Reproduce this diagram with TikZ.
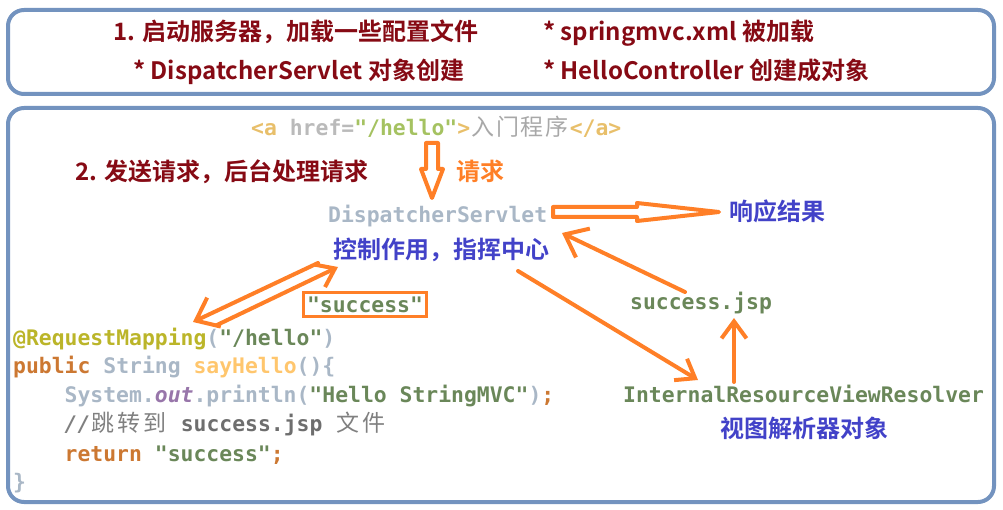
\documentclass[tikz,border=0pt]{standalone}
\usepackage{fontspec}
\usetikzlibrary{arrows.meta}
\newfontfamily\cjk{Noto Sans CJK SC}[BoldFont={Noto Sans CJK SC Bold}]
\newfontfamily\mono{DejaVu Sans Mono}
\definecolor{cRed}{HTML}{860A14}
\definecolor{cBlue}{HTML}{4242C8}
\definecolor{cOrg}{HTML}{FF7F27}
\definecolor{cFrame}{HTML}{7393BF}
\definecolor{cFg}{HTML}{A9B7C6}
\definecolor{cStr}{HTML}{6A8759}
\definecolor{cAnn}{HTML}{BBB529}
\definecolor{cKw}{HTML}{CC7832}
\definecolor{cMeth}{HTML}{FFC66D}
\definecolor{cPurp}{HTML}{9876AA}
\definecolor{cTag}{HTML}{E8BF6A}
\definecolor{cAttr}{HTML}{BABABA}
\definecolor{cHstr}{HTML}{A5C261}
\definecolor{cCmt}{HTML}{808080}
\definecolor{cCmtB}{HTML}{6E6E6E}
\definecolor{cLink}{HTML}{A8A8A8}
\newcommand\cwa[1]{\makebox[24.9pt]{\cjk\mdseries\upshape\fontsize{23}{26}\selectfont #1}}
\newcommand\cwb[1]{\makebox[25.8pt]{\cjk\mdseries\upshape\fontsize{23}{26}\selectfont #1}}
\tikzset{
  headtxt/.style={font=\cjk\bfseries\fontsize{24}{28}\selectfont, text=cRed, inner sep=0pt, anchor=base west},
  bluetxt/.style={headtxt, text=cBlue},
  codetxt/.style={font=\mono\bfseries\fontsize{21.4}{26}\selectfont, inner sep=0pt, anchor=base west},
  frame/.style={draw=cFrame, line width=4pt, rounded corners=16pt},
  orline/.style={draw=cOrg, line width=4pt, line cap=round, line join=round},
  orarrow/.style={orline, -{Straight Barb[length=20pt,width=32pt]}},
  orarrowsm/.style={orline, -{Straight Barb[length=17pt,width=25pt]}},
}
\begin{document}
\begin{tikzpicture}[x=1pt,y=-1pt]
\useasboundingbox (0,0) rectangle (1003,510);
% frames
\draw[frame] (8,10) rectangle (994,94);
\draw[frame] (8,108) rectangle (994,502);
% top texts
\node[headtxt] (t1) at (113,41) {1. 启动服务器，加载一些配置文件};
\node[headtxt] (t2) at (543,41) {* springmvc.xml 被加载};
\node[headtxt] (t3) at (133,80) {* DispatcherServlet 对象创建};
\node[headtxt] (t4) at (543,80) {* HelloController 创建成对象};
% second box
\node[codetxt] (link) at (251,136) {\textcolor{cTag}{<a} \textcolor{cAttr}{href=}\textcolor{cHstr}{"/hello"}\textcolor{cTag}{>}\textcolor{cLink}{\cwa{入}\cwa{门}\cwa{程}\cwa{序}}\textcolor{cTag}{</a>}};
\node[headtxt] (t5) at (75,181) {2. 发送请求，后台处理请求};
\node[headtxt, text=cOrg] (req) at (456,181) {请求};
\node[codetxt, text=cFg] (ds) at (328,223) {DispatcherServlet};
\node[bluetxt] (resp) at (729,221) {响应结果};
\node[bluetxt] (ctrl) at (333,259) {控制作用，指挥中心};
\node[codetxt, text=cStr] (jsp) at (630,309) {success.jsp};
\node[codetxt, text=cStr] (ivr) at (623,402) {InternalResourceViewResolver};
\node[bluetxt] (vr) at (720,437) {视图解析器对象};
\node[codetxt, text=cStr, anchor=center, draw=cOrg, line width=3.5pt, inner xsep=3.5pt, inner ysep=4pt, text height=15.6pt, text depth=0pt] (succ) at (365,304.5) {"success"};
% code
\node[codetxt] (c1) at (13,345) {\textcolor{cAnn}{@RequestMapping}\textcolor{cFg}{(}\textcolor{cStr}{"/hello"}\textcolor{cFg}{)}};
\node[codetxt] (c2) at (13,373) {\textcolor{cKw}{public} \textcolor{cFg}{String} \textcolor{cMeth}{sayHello}\textcolor{cFg}{()\{}};
\node[codetxt] (c3) at (64.5,402) {\textcolor{cFg}{System.}\textcolor{cPurp}{\itshape out}\textcolor{cFg}{.println(}\textcolor{cStr}{"Hello StringMVC"}\textcolor{cFg}{)}\textcolor{cKw}{;}};
\node[codetxt] (c4) at (64.5,431) {\textcolor{cCmt}{\itshape //\cwb{跳}\cwb{转}\cwb{到}} \textcolor{cCmtB}{success.jsp} \textcolor{cCmt}{\cwb{文}\cwb{件}}};
\node[codetxt] (c5) at (64.5,461) {\textcolor{cKw}{return} \textcolor{cStr}{"success"}\textcolor{cKw}{;}};
\node[codetxt] (c6) at (13,489) {\textcolor{cFg}{\}}};
% hollow arrows
\draw[orline] (426,143) -- (438,143) -- (438,169) -- (443,169) -- (432,198) -- (421,169) -- (426,169) -- cycle;
\draw[orline] (553,207) -- (637,207) -- (637,203) -- (719,212) -- (637,221) -- (637,217) -- (553,217) -- cycle;
% connector coordinates
\coordinate (jspTail) at (685,292);
\coordinate (dsTip) at (562,233);
\coordinate (ctrlTail) at (518,271);
\coordinate (ivrTip) at (698,380);
\coordinate (ivrTail) at (734,382);
\coordinate (jspTip) at (734,318);
\coordinate (aTail) at (318,263);
\coordinate (aTip) at (193,322);
\coordinate (bTail) at (217,325);
\coordinate (bTip) at (338,267);
\draw[orarrow] (jspTail) -- (dsTip);
\draw[orarrowsm] (ctrlTail) -- (ivrTip);
\draw[orarrowsm] (ivrTail) -- (jspTip);
\draw[orarrow] (aTail) -- (aTip);
\draw[orarrowsm] (bTail) -- (bTip);
\end{tikzpicture}
\end{document}
